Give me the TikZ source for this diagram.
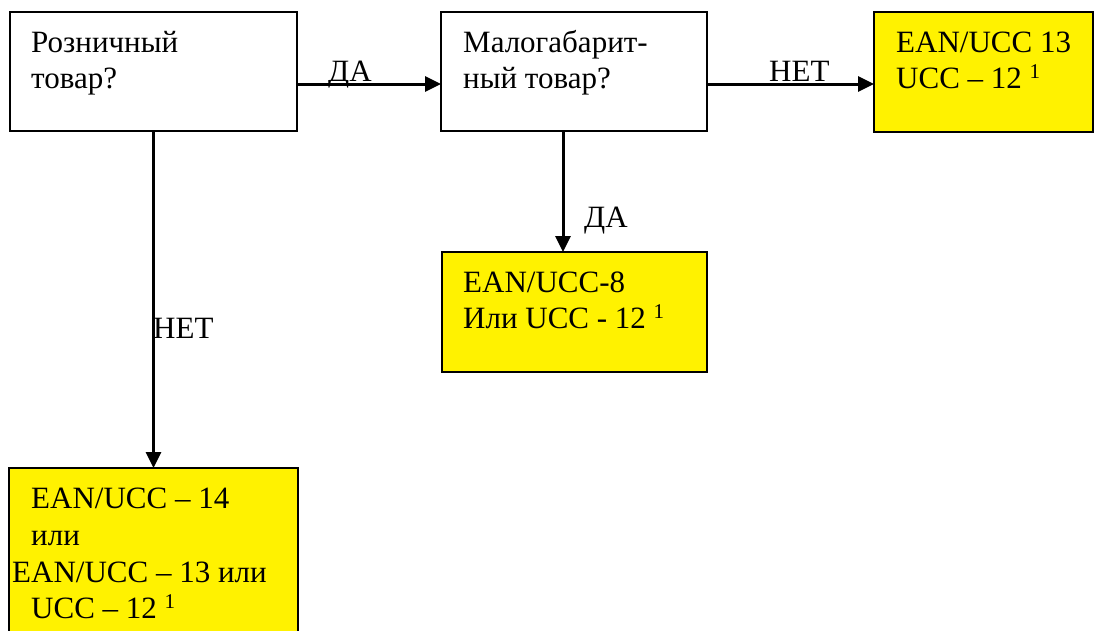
\documentclass[tikz,border=0pt]{standalone}
\usepackage{fontspec}
\setmainfont{Liberation Serif}
\usetikzlibrary{arrows.meta}
\newcommand{\supone}{\raisebox{10pt}{\fontsize{21}{21}\selectfont 1}}
\begin{document}
\begin{tikzpicture}[x=1pt,y=-1pt,
  box/.style={draw=black,line width=2pt,inner sep=0pt,outer sep=0pt,anchor=north west},
  ybox/.style={box,fill=yellow},
  txt/.style={anchor=base west,inner sep=0pt,font=\fontsize{31}{36}\selectfont},
  arr/.style={line width=3pt,-{Triangle[length=16pt,width=15pt]}}]
\useasboundingbox (0,0) rectangle (1101,630);
\clip (0,0) rectangle (1101,630);
% boxes
\node[box,minimum width=287pt,minimum height=119pt] (b1) at (10,12) {};
\node[box,minimum width=266pt,minimum height=119pt] (b2) at (441,12) {};
\node[ybox,minimum width=219pt,minimum height=120pt] (b3) at (874,12) {};
\node[ybox,minimum width=265pt,minimum height=120pt] (b4) at (442,252) {};
\node[ybox,minimum width=289pt,minimum height=200pt] (b5) at (9,468) {};
% texts
\node[txt] (t1a) at (31,52) {Розничный};
\node[txt] (t1b) at (31,88) {товар?};
\node[txt] (t2a) at (463,52) {Малогабарит-};
\node[txt] (t2b) at (463,88) {ный товар?};
\node[txt] (t3a) at (896,52) {EAN/UCC 13};
\node[txt] (t3b) at (896,88) {UCC – 12 \supone};
\node[txt] (t4a) at (463,292) {EAN/UCC-8};
\node[txt] (t4b) at (463,328) {Или UCC - 12 \supone};
\node[txt] (t5a) at (31,508) {EAN/UCC – 14};
\node[txt] (t5b) at (31,545) {или};
\node[txt] (t5c) at (12,582) {EAN/UCC – 13 или};
\node[txt] (t5d) at (31,618) {UCC – 12 \supone};
% connectors
\draw[arr] ([yshift=-12.5pt]b1.east) -- ([yshift=-12.5pt]b2.west);
\draw[arr] ([yshift=-12.5pt]b2.east) -- ([yshift=-12pt]b3.west);
\draw[arr] ([xshift=-11pt]b2.south) -- ([xshift=-11.5pt]b4.north);
\draw[arr] (b1.south) -- (b5.north);
% labels
\node[txt] (l1) at (328,81) {ДА};
\node[txt] (l2) at (769,81) {НЕТ};
\node[txt] (l3) at (584,227) {ДА};
\node[txt] (l4) at (153,338) {НЕТ};
\end{tikzpicture}
\end{document}
